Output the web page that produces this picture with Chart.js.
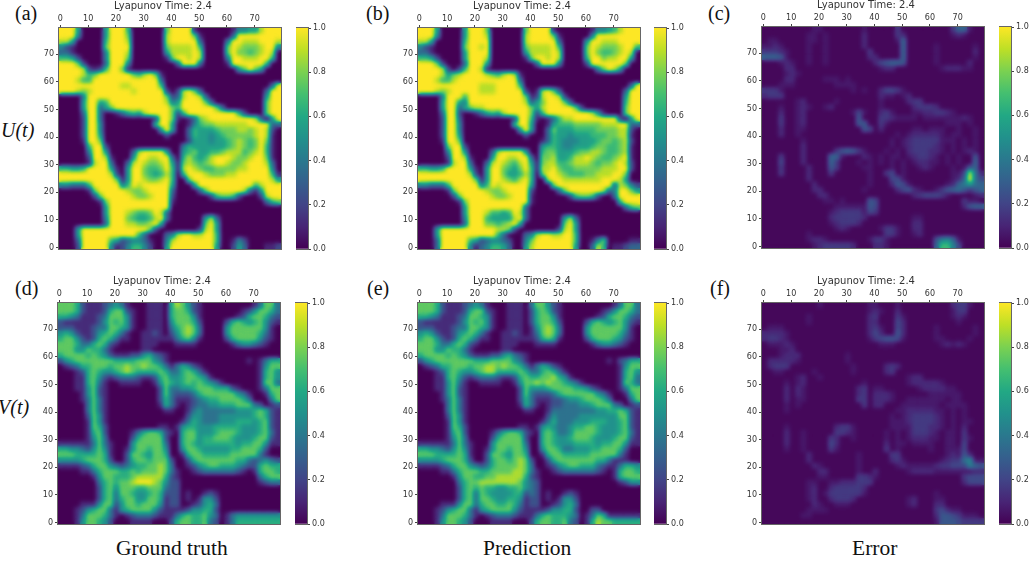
<!DOCTYPE html>
<html>
<head>
<meta charset="utf-8">
<script src="https://cdn.jsdelivr.net/npm/chart.js@4"></script>
<style>
  body { margin: 0; background: #fff; }
  #figure { position: relative; width: 1035px; height: 561px; overflow: hidden; }
  canvas { position: absolute; }
  .tag { position: absolute; font-family: "Liberation Serif", serif; font-size: 20px; color: #111; line-height: 24px; white-space: nowrap; }
  .side { font-style: italic; }
  .foot { font-size: 21.5px; }
</style>
</head>
<body>
<div id="figure">
  <span class="tag" style="left:15px;top:1px">(a)</span>
  <span class="tag" style="left:366px;top:1px">(b)</span>
  <span class="tag" style="left:708px;top:1px">(c)</span>
  <span class="tag" style="left:15px;top:276px">(d)</span>
  <span class="tag" style="left:367px;top:276px">(e)</span>
  <span class="tag" style="left:710px;top:276px">(f)</span>
  <span class="tag side" style="left:1px;top:118px">U(t)</span>
  <span class="tag side" style="left:-2px;top:395px">V(t)</span>
  <span class="tag foot" style="left:116px;top:536px">Ground truth</span>
  <span class="tag foot" style="left:483px;top:536px">Prediction</span>
  <span class="tag foot" style="left:852px;top:536px">Error</span>
</div>
<script>
// cells are 2x2 grid units, rows run from y=78 down to y=0, columns grouped per 10 units
// U panels: digit / 9, V panels: digit / 8
const uTruth = [
  "99950 00059 99600 00007 99991 00000 01445 58999",
  "99940 00059 99700 00008 99997 10000 03999 99999",
  "88500 00069 99800 00008 99999 30000 49988 89998",
  "42100 00079 99900 00007 88889 60000 79877 78994",
  "33100 00049 99800 00005 88889 80000 79776 78980",
  "66520 00049 99700 00001 79989 80000 49988 89960",
  "99972 00039 99400 00000 03999 30000 19999 99600",
  "99998 21269 97100 00000 00000 00000 00579 75000",
  "99998 67999 99976 89710 00000 00000 00000 00000",
  "99986 69999 99999 99930 00000 00000 00000 00000",
  "99999 99999 98899 99960 00000 00000 00000 00039",
  "99987 89999 99989 99992 02897 30000 00000 00399",
  "00004 99999 99999 99997 23899 83000 00000 00599",
  "00005 99569 99999 99998 45999 97300 00000 00799",
  "00005 99357 99999 99999 76999 99973 00000 00799",
  "00003 99300 13565 89999 72699 99999 99620 00799",
  "00002 99300 00000 00299 71013 78999 99999 83059",
  "00002 99400 00000 00699 50014 67788 88889 99933",
  "00002 99400 00000 00059 50036 55567 77887 89820",
  "00002 99500 00000 00002 00036 55456 77777 89810",
  "00001 99700 00000 00000 00025 55455 67876 79710",
  "00000 69920 00000 00000 00465 55555 67876 79610",
  "00000 49950 00038 99995 00567 55667 88867 89610",
  "00000 29981 00059 98899 30686 56899 98778 99710",
  "00000 18993 00389 87789 51787 67899 87789 99830",
  "66556 99995 10599 76679 61898 76677 77889 99940",
  "99999 99998 20599 76568 60699 98777 88999 99961",
  "99999 99999 71599 87789 60079 99999 99999 99985",
  "44333 69999 94698 99999 50005 99999 99999 68999",
  "00000 17999 99877 89999 30000 37999 99983 15999",
  "00000 02799 99987 78999 20000 00267 76200 02899",
  "00000 00179 99999 99999 10000 00000 00000 00367",
  "00000 00059 99999 99999 00000 00000 00000 00000",
  "00000 00059 99876 67983 00000 00000 00000 00000",
  "00000 00049 99765 56893 00000 05830 00000 00000",
  "00000 00039 99887 78950 00000 07950 00000 00000",
  "00059 99999 99999 97200 00000 28950 00000 00000",
  "00059 99999 99996 30003 48998 89960 00000 00000",
  "00039 99996 52344 31004 89999 99960 01420 00000",
  "00029 99994 12466 42005 99999 99950 02530 00112"
];
const uPred = [
  "99950 00059 99700 00007 99991 00000 01445 68999",
  "99940 00059 99800 00008 99997 10000 04999 99999",
  "88500 00069 99900 00008 99999 30000 59988 89999",
  "42100 00079 98900 00007 88889 60000 79877 78996",
  "33100 00059 99900 00005 88889 80000 79766 78980",
  "66520 00059 99800 00001 79989 80000 69978 89950",
  "99972 00039 99500 00000 03999 40000 29999 99700",
  "99998 20269 98100 00000 00000 00000 00479 85000",
  "99998 57899 99876 89810 00000 00000 00000 00000",
  "99986 68999 99999 99930 00000 00000 00000 00000",
  "99999 99999 98889 99960 00000 00000 00000 00039",
  "99987 89999 98889 99992 01897 30000 00000 00399",
  "00004 99969 99999 99997 12899 82000 00000 00599",
  "00005 99549 99999 99998 35799 97300 00000 00699",
  "00005 99357 88999 99999 75899 99972 00000 00799",
  "00003 99200 13565 89999 72699 99999 98510 00799",
  "00002 99300 00000 00299 61013 68899 99999 92059",
  "00002 99400 00000 00699 50015 66677 77788 89933",
  "00002 99400 00000 00059 50037 55566 66777 78820",
  "00002 99500 00000 00002 00036 55455 56667 78810",
  "00001 99700 00000 00000 00136 54445 55677 67820",
  "00000 79920 00000 00000 00566 54455 56776 67810",
  "00000 49950 00038 99995 00677 55567 78876 67810",
  "00000 29981 00059 98899 30778 55688 98766 78910",
  "00000 18993 00389 87689 51788 66788 87677 89820",
  "66556 99995 10599 76579 61889 76677 77788 89920",
  "99999 99998 20599 75568 60799 87666 77888 99700",
  "99999 99999 71599 87689 60089 98888 88899 98500",
  "44333 69999 94698 99999 50007 99999 99999 38742",
  "00000 17999 99877 89999 20000 37999 99983 49975",
  "00000 02799 99987 78999 10000 00267 76200 39999",
  "00000 00179 99999 99999 10000 00000 00000 06999",
  "00000 00059 99999 99993 00000 00000 00000 00367",
  "00000 00059 99866 56983 00000 00000 00000 00000",
  "00000 00049 99655 55893 00000 05830 00000 00000",
  "00000 00039 99776 78950 00000 07950 00000 00000",
  "00059 99999 99998 87200 00000 28950 00000 00000",
  "00059 99999 99996 30003 48998 89960 00000 00000",
  "00039 99996 52344 32004 79999 99960 01470 00011",
  "00039 99994 13466 53005 89999 99950 03860 11233"
];
// error panels: base 36 digit x errorStep
const uError = [
  "00000 00001 10000 00010 00003 00000 00003 66100",
  "00000 00011 01000 00020 00003 20000 00001 21000",
  "01100 00011 01000 00020 00001 60000 00000 00000",
  "11210 00010 01000 00020 00000 60000 01000 00010",
  "33321 00010 01000 00003 00000 60000 01000 00020",
  "66651 00010 01000 00002 20000 60000 01000 00010",
  "00012 10010 01000 00000 24566 50000 01000 00200",
  "00002 20000 00000 00000 01220 00000 00122 21100",
  "00001 21000 00000 00000 00000 00000 00000 00000",
  "00002 20000 01110 10000 00000 00000 00000 00000",
  "00011 10000 00011 11000 00000 00000 00000 00000",
  "33310 00000 00000 01010 02443 10000 00000 00000",
  "23330 00000 00000 00000 02110 12000 00000 00000",
  "00000 01200 00010 00000 01000 02330 00000 00000",
  "00010 01210 01200 00000 01000 00233 32000 00000",
  "00020 01200 00000 01410 02310 00112 23321 00000",
  "00030 01200 00000 00500 03321 11101 11111 12100",
  "00030 01200 00000 00550 03100 00000 00011 10100",
  "00020 01100 00000 00054 02000 00110 11100 10010",
  "00020 01000 00000 00000 00001 01222 22101 10010",
  "00000 00100 00000 00000 00010 12333 33111 01010",
  "00000 00200 00000 00000 00010 12333 32101 01010",
  "00000 00200 00035 65310 00101 02333 22101 01210",
  "00030 00200 00661 00021 01011 01233 21010 10050",
  "00040 00200 00630 00101 01010 10122 11010 10060",
  "00030 00020 00530 00011 00010 10012 10001 01560",
  "00030 00020 00300 00001 00340 10000 00001 14h72",
  "00000 00020 00000 00001 00044 10000 00001 26j74",
  "00000 00002 00000 00001 00025 41000 00012 68a76",
  "00000 00002 20000 00010 00002 45210 01356 75356",
  "00000 00000 22000 00000 00000 00234 44310 00012",
  "00000 00000 01101 00005 40000 00000 00000 03110",
  "00000 00000 00011 11115 40000 00000 00000 02566",
  "00000 00000 00123 33314 30000 00000 00000 00000",
  "00000 00000 00233 33320 00000 00110 00000 00000",
  "00000 00000 00123 33200 00000 00220 00000 00000",
  "00000 00000 00012 10000 01331 00220 00000 00000",
  "00000 00010 00000 00000 00331 00120 00000 00000",
  "00000 00012 21000 00001 33100 00000 05896 10000",
  "00000 00001 23333 32000 22100 00000 06dd8 40000"
];
const vTruth = [
  "66652 11123 43100 01110 57642 10000 00000 13663",
  "66652 11125 66210 01110 56652 10000 00012 46653",
  "55431 11236 66410 01110 56664 10000 00125 66532",
  "21111 11246 56410 01110 46665 20000 25654 56421",
  "22211 12336 65410 01110 35676 30000 46666 66410",
  "45421 12456 53100 11210 24676 30000 46666 65310",
  "56642 12565 31100 11111 13564 10000 25666 64210",
  "66653 35652 10000 11100 01111 00000 01344 32100",
  "66644 65531 00000 11000 00000 00000 00000 00000",
  "56666 56542 11122 45321 00000 00000 00000 00000",
  "24566 66666 55556 66431 00000 00000 00001 01355",
  "01235 56665 66766 76653 13542 10000 00000 01466",
  "00012 56544 56765 55565 33565 31000 00000 01564",
  "00011 56421 23332 11256 44566 54100 00000 01564",
  "00011 56310 01111 00146 54565 65431 00000 01663",
  "00011 46210 00000 00026 33445 66655 52100 01366",
  "00001 46210 00000 00026 32223 56666 66431 00156",
  "00001 36310 00000 00025 31112 34556 66653 00036",
  "00000 36310 00000 00015 31012 33445 55666 32012",
  "00000 36310 00000 00001 10013 43333 33444 56521",
  "00000 26410 00000 00000 00024 43334 44444 56521",
  "00000 16410 00000 00000 00135 43334 44555 45621",
  "00000 16520 00000 00011 01455 44455 55544 45621",
  "00000 15620 00013 56652 10566 44456 66544 45631",
  "00000 14630 00025 66662 00566 45566 65444 56621",
  "11111 13631 00046 66663 00565 45555 55455 66411",
  "55443 24641 00146 65664 00466 54444 45566 65200",
  "66655 55651 00266 54665 00156 65555 56666 63100",
  "44445 66652 00256 65666 20025 66666 66553 23432",
  "11112 35664 32345 56676 30012 45665 55432 25655",
  "00001 13566 65565 66676 31001 23333 33210 15665",
  "00000 01466 55567 77775 21000 00000 00000 03566",
  "00000 00356 56678 88764 22000 00000 00000 01233",
  "00000 00256 46665 56663 22000 00000 00000 00000",
  "00000 00256 36654 45652 22010 01210 00000 00000",
  "00000 00256 35664 46651 22010 14420 00000 00000",
  "00001 11466 24665 66641 22001 24530 00000 00000",
  "00012 45663 14566 66421 11124 45520 00000 00000",
  "00013 66653 10123 33211 13565 56430 13444 44444",
  "00014 66542 00011 11000 25665 56320 13555 55555"
];
const vPred = [
  "66652 11123 43100 01110 36642 10000 00000 13663",
  "66652 11125 66210 01110 25652 10000 00012 46653",
  "55431 11236 65410 01110 25664 10000 00125 66532",
  "21111 11246 56410 01110 25665 20000 25654 56421",
  "22211 12336 65410 01110 14676 30000 46666 66410",
  "45421 12456 53100 11210 13676 30000 46666 65310",
  "56642 12565 31100 11111 12565 10000 25666 54210",
  "66653 35652 10000 11100 01111 00000 01344 32100",
  "66644 65531 00000 11000 00000 00000 00000 00000",
  "56666 56542 11122 45321 00000 00000 00000 00000",
  "24566 66666 55566 66431 00000 00000 00001 02355",
  "01235 56665 66776 76653 13542 10000 00000 01466",
  "00012 56544 56775 55565 33565 31000 00000 01564",
  "00011 56421 23332 11256 55667 54100 00000 01563",
  "00011 46310 01111 00146 67676 65431 00000 01653",
  "00011 46210 00000 00026 44456 66655 42100 01366",
  "00001 46210 00000 00026 32223 56666 66431 00156",
  "00001 36310 00000 00025 31112 23445 66653 00036",
  "00000 36310 00000 00015 31012 23334 45666 32012",
  "00000 36310 00000 00001 10013 33333 33445 56521",
  "00000 26410 00000 00000 00024 33334 44444 46621",
  "00000 16410 00000 00000 00135 33344 45554 45621",
  "00000 16520 00000 00011 01454 33455 66544 45621",
  "00000 15620 00013 56652 10565 33466 66544 45631",
  "00000 14630 00025 66662 00565 44566 65444 56621",
  "11111 13631 00046 66663 00565 44455 55455 66411",
  "55443 24641 00146 65664 00466 53344 45566 65200",
  "66655 55651 00266 54665 00156 65555 56666 63100",
  "44445 66652 00256 65676 20025 66666 66553 11100",
  "11112 35664 32356 66676 30012 45665 55321 13554",
  "00001 13566 65566 66776 31001 23333 33210 15665",
  "00000 01466 55667 77775 21000 00000 00000 15666",
  "00000 00356 67777 77764 32000 00000 00000 01244",
  "00000 00256 56554 45564 32000 00000 00000 00000",
  "00000 00256 36544 44552 32010 01210 00000 00000",
  "00000 00256 36654 45541 22010 14420 00000 00000",
  "00001 11466 35665 56531 22001 24530 00000 00000",
  "00012 45663 14566 66421 11124 45520 02200 00000",
  "00013 66653 10123 33211 13565 55430 13651 11111",
  "00014 66542 00011 11000 25665 56320 15766 55555"
];
const vError = [
  "00000 00000 10000 00001 10001 00000 00002 33100",
  "00000 00000 00000 00001 21002 00000 00001 33000",
  "00000 00010 00000 00002 30003 10000 00001 21000",
  "00000 00010 00000 00002 20004 20000 00000 10000",
  "01110 00000 00000 00002 31004 20000 01000 00010",
  "22221 00000 00000 00002 42005 20000 01000 00010",
  "23321 00000 00000 00001 34554 10000 01100 00100",
  "01112 10000 00000 00000 01110 00000 00121 21000",
  "00011 20000 00000 00000 00000 00000 00000 00000",
  "00012 22000 00000 10000 00000 00000 00000 00000",
  "02222 21000 00000 10000 00000 00000 00000 00000",
  "02333 00000 00000 01000 00232 00000 00000 00000",
  "00110 00001 00000 01000 00230 00000 00000 00000",
  "00000 01200 10000 00000 00000 01220 00000 00000",
  "00001 01200 00000 00010 00000 01222 22100 00000",
  "00002 02100 00000 00230 11000 00012 22211 00000",
  "00002 02100 00000 00230 22210 00000 11111 10000",
  "00002 01100 00000 00330 22210 01111 11101 10000",
  "00001 01000 00000 00030 22000 11111 11011 11000",
  "00001 00000 00000 00000 00001 12222 21101 01000",
  "00000 00000 00000 00000 00010 12333 32101 01000",
  "00000 00000 00000 00000 00011 12333 32101 01100",
  "00001 00000 00023 31000 00011 11333 22101 02000",
  "00002 00100 00033 21000 00101 01333 21011 03000",
  "00002 00100 00320 01000 00101 01222 11011 03100",
  "00002 00100 00420 00000 00201 10111 10011 04000",
  "00001 00100 00310 00000 00301 00000 10011 14000",
  "00000 00020 00000 00100 00033 00000 00012 15200",
  "00000 00020 00000 00100 00023 10000 00123 37911",
  "00000 00002 10000 00100 00001 21111 12334 44865",
  "00000 00000 22000 00100 20000 01222 21111 11122",
  "00000 00000 11000 00332 10000 00000 00000 03444",
  "00000 00011 00112 22333 00000 00000 00000 02444",
  "00000 00012 00233 33320 00000 00000 00000 00000",
  "00000 00012 01333 33310 00000 00000 01000 00000",
  "00000 00012 00233 32000 00000 01200 01100 00000",
  "00000 00002 10011 10000 00000 01200 02200 00000",
  "00000 00011 11000 00000 00000 00000 03421 10000",
  "00000 00110 00000 00000 00000 00000 02554 31110",
  "00000 00000 00000 00000 00000 00000 01555 43333"
];
const errorStep = 0.05;
const errorFloor = 0.02;

const axisTicks = [0, 10, 20, 30, 40, 50, 60, 70];
const colorbarTicks = [0, 0.2, 0.4, 0.6, 0.8, 1];
const colorbarRange = [[0, 1]];
const panelTitle = 'Lyapunov Time: 2.4';
const viridisStops = ['#440154', '#482475', '#414487', '#355f8d', '#2a788e', '#21918c', '#22a884', '#44bf70', '#7ad151', '#bddf26', '#fde725'];

const figure = document.getElementById('figure');
const textColor = '#333';
const tickFont = { family: '"DejaVu Sans"', size: 8, lineHeight: '10px' };
const plotW = 222, plotH = 221;

function viridis(v) {
    const p = Math.min(Math.max(v, 0), 1) * (viridisStops.length - 1);
    const i = Math.min(Math.floor(p), viridisStops.length - 2);
    const a = parseInt(viridisStops[i].slice(1), 16), b = parseInt(viridisStops[i + 1].slice(1), 16);
    const mix = s => Math.round(((a >> s) & 255) * (i + 1 - p) + ((b >> s) & 255) * (p - i));
    return [mix(16), mix(8), mix(0)];
}
const viridisTable = Array.from({ length: 256 }, (_, i) => viridis(i / 255));

function addCanvas(left, top, width, height) {
    const canvas = document.createElement('canvas');
    canvas.width = width;
    canvas.height = height;
    canvas.style.left = left + 'px';
    canvas.style.top = top + 'px';
    figure.appendChild(canvas);
    return canvas;
}

// cells are drawn as grey levels, smoothed, then coloured, so edges pass through the whole colormap
const colormapPlugin = {
    id: 'colormap',
    afterLayout(chart) {
        chart.titleBlock.left += 16; // title sits a little left of the plot centre
    },
    afterDatasetsDraw(chart) {
        const { ctx, canvas, chartArea: a } = chart;
        ctx.save();
        ctx.beginPath();
        ctx.rect(a.left, a.top, a.width, a.height);
        ctx.clip();
        ctx.filter = 'blur(2.2px)';
        ctx.drawImage(canvas, a.left, a.top, a.width, a.height, a.left, a.top, a.width, a.height);
        ctx.restore();
        const image = ctx.getImageData(a.left, a.top, a.width, a.height);
        const px = image.data;
        for (let i = 0; i < px.length; i += 4) {
            const c = viridisTable[px[i]];
            px[i] = c[0];
            px[i + 1] = c[1];
            px[i + 2] = c[2];
            px[i + 3] = 255;
        }
        ctx.putImageData(image, a.left, a.top);
    }
};
const framePlugin = {
    id: 'frame',
    afterDraw(chart) {
        const { ctx, chartArea: a } = chart;
        ctx.save();
        ctx.strokeStyle = '#666';
        ctx.lineWidth = 1;
        ctx.strokeRect(a.left - 0.5, a.top - 0.5, a.width + 1, a.height + 1);
        ctx.restore();
    }
};

function drawHeatmap(rows, toValue, left, top) {
    const cells = [], levels = [];
    rows.forEach((row, r) => {
        [...row.replace(/ /g, '')].forEach((ch, c) => {
            cells.push({ x: 2 * c + 0.5, y: 78.5 - 2 * r });
            const g = Math.round(Math.min(toValue(ch), 1) * 255);
            levels.push(`rgb(${g},${g},${g})`);
        });
    });
    const fixedTicks = scale => { scale.ticks = axisTicks.map(value => ({ value })); };
    const canvas = addCanvas(left - 30, top - 28, plotW + 46, plotH + 35);
    new Chart(canvas, {
        type: 'scatter',
        data: { datasets: [{ data: cells, backgroundColor: levels, pointStyle: 'rect', borderWidth: 0, pointRadius: ctx => (ctx.chart.chartArea ? ctx.chart.chartArea.width / 40 * 0.75 : 4) }] },
        options: {
            responsive: false,
            animation: false,
            events: [],
            devicePixelRatio: 1,
            layout: { padding: { right: 16 } },
            plugins: {
                legend: { display: false },
                tooltip: { enabled: false },
                title: { display: true, text: panelTitle, color: textColor, padding: 0, font: { family: '"DejaVu Sans"', size: 10, weight: 'normal', lineHeight: '12px' } }
            },
            scales: {
                x: {
                    type: 'linear', position: 'top', min: -0.5, max: 79.5,
                    afterBuildTicks: fixedTicks,
                    afterFit: s => { s.height = 16; },
                    grid: { drawOnChartArea: false, tickLength: 3, color: '#444' },
                    border: { display: false },
                    ticks: { font: tickFont, color: textColor, padding: 1, maxRotation: 0, autoSkip: false }
                },
                y: {
                    type: 'linear', min: -0.5, max: 79.5,
                    afterBuildTicks: fixedTicks,
                    afterFit: s => { s.width = 30; },
                    grid: { drawOnChartArea: false, tickLength: 3, color: '#444' },
                    border: { display: false },
                    ticks: { font: tickFont, color: textColor, padding: 2, autoSkip: false }
                }
            }
        },
        plugins: [colormapPlugin, framePlugin]
    });
}

function drawColorbar(left, top) {
    const canvas = addCanvas(left, top - 7, 44, plotH + 14);
    new Chart(canvas, {
        type: 'bar',
        data: {
            labels: [''],
            datasets: [{
                data: colorbarRange,
                barPercentage: 1,
                categoryPercentage: 1,
                backgroundColor: ctx => {
                    const a = ctx.chart.chartArea;
                    if (!a) return viridisStops[0];
                    const g = ctx.chart.ctx.createLinearGradient(0, a.bottom, 0, a.top);
                    viridisStops.forEach((c, i) => g.addColorStop(i / (viridisStops.length - 1), c));
                    return g;
                }
            }]
        },
        options: {
            responsive: false,
            animation: false,
            events: [],
            devicePixelRatio: 1,
            plugins: { legend: { display: false }, tooltip: { enabled: false } },
            scales: {
                x: { display: false },
                y: {
                    position: 'right', min: 0, max: 1,
                    afterBuildTicks: scale => { scale.ticks = colorbarTicks.map(value => ({ value })); },
                    afterFit: s => { s.width = 32; },
                    grid: { drawOnChartArea: false, tickLength: 3, color: '#444' },
                    border: { display: false },
                    ticks: { font: tickFont, color: textColor, padding: 2, callback: v => v.toFixed(1) }
                }
            }
        },
        plugins: [framePlugin]
    });
}

const uValue = ch => parseInt(ch, 10) / 9;
const vValue = ch => parseInt(ch, 10) / 8;
const errorValue = ch => parseInt(ch, 36) * errorStep + errorFloor;

drawHeatmap(uTruth, uValue, 59, 28);
drawHeatmap(uPred, uValue, 418, 28);
drawHeatmap(uError, errorValue, 762, 27);
drawHeatmap(vTruth, vValue, 58, 303);
drawHeatmap(vPred, vValue, 418, 303);
drawHeatmap(vError, errorValue, 762, 303);

drawColorbar(296, 28);
drawColorbar(654, 28);
drawColorbar(999, 27);
drawColorbar(295, 303);
drawColorbar(654, 303);
drawColorbar(999, 303);
</script>
</body>
</html>
